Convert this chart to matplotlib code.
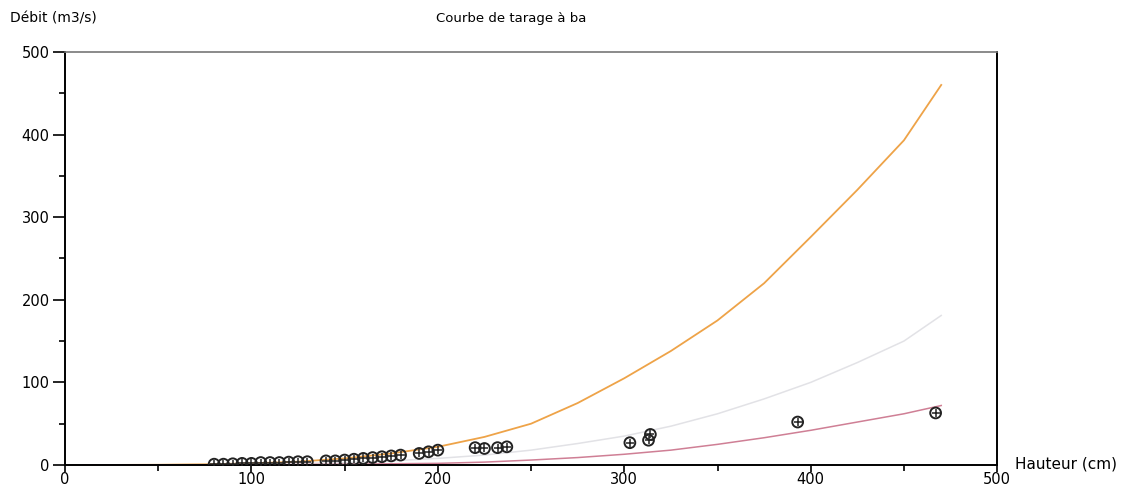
import matplotlib.pyplot as plt
import numpy as np

# rating curves, sampled along the height axis
hauteur = [0, 25, 50, 75, 100, 125, 150, 175, 200, 225, 250, 275, 300,
           325, 350, 375, 400, 425, 450, 470]
debit_haut = [0, 0.1, 0.3, 0.9, 2, 4, 8, 14, 22, 34, 50, 75, 105,
              138, 175, 220, 276, 333, 393, 460]
debit_moyen = [0, 0.05, 0.1, 0.4, 1, 1.8, 3, 5, 8, 12, 18, 26, 35,
               47, 62, 80, 100, 124, 150, 181]
debit_bas = [0, 0.02, 0.05, 0.15, 0.3, 0.6, 1, 1.5, 2, 3.5, 6, 9, 13,
             18, 25, 33, 42, 52, 62, 72]

# gaugings
jaug_h = [80, 85, 90, 95, 100, 105, 110, 115, 120, 125, 130, 140, 145, 150,
          155, 160, 165, 170, 175, 180, 190, 195, 200, 220, 225, 232, 237,
          303, 313, 314, 393, 467]
jaug_q = [1, 1, 1.5, 2, 2, 3, 3, 3, 3.5, 4, 4, 5, 5, 6,
          7, 8, 9, 10, 11, 12, 14, 16, 18, 21, 20, 21, 22,
          27, 30, 37, 52, 63]

fig = plt.figure(figsize=(11.48, 4.86), dpi=100)
ax = fig.add_axes([0.0566, 0.0432, 0.812, 0.850])

ax.plot(hauteur, debit_haut, color='#eea348', lw=1.3)
ax.plot(hauteur, debit_moyen, color='#e2e2e6', lw=1.1)
ax.plot(hauteur, debit_bas, color='#cf7f95', lw=1.1)

ax.scatter(jaug_h, jaug_q, s=60, facecolors='none', edgecolors='#222222', linewidths=1.4, zorder=3)
ax.scatter(jaug_h, jaug_q, s=28, marker='+', color='#222222', linewidths=1.1, zorder=3)

ax.set_xlim(0, 500)
ax.set_ylim(0, 500)
ax.set_xticks(np.arange(0, 501, 100))
ax.set_yticks(np.arange(0, 501, 100))
ax.set_xticks(np.arange(50, 500, 100), minor=True)
ax.set_yticks(np.arange(50, 500, 100), minor=True)
ax.tick_params(direction='out', width=1.2, labelsize=10.5, colors='black')
ax.tick_params(axis='y', length=9, pad=2)
ax.tick_params(axis='x', length=5, pad=0)
ax.tick_params(which='minor', direction='out', length=4, width=1.2)

for side in ['left', 'bottom', 'right']:
    ax.spines[side].set_linewidth(1.4)
ax.spines['top'].set_color('#777777')
ax.spines['top'].set_linewidth(1.2)

fig.text(0.009, 0.962, 'Débit (m3/s)', fontsize=10, va='center')
fig.text(0.38, 0.962, 'Courbe de tarage à ba', fontsize=9.5, va='center')
fig.text(0.884, 0.045, 'Hauteur (cm)', fontsize=11, va='center')

fig.savefig('out.png', dpi=100)
